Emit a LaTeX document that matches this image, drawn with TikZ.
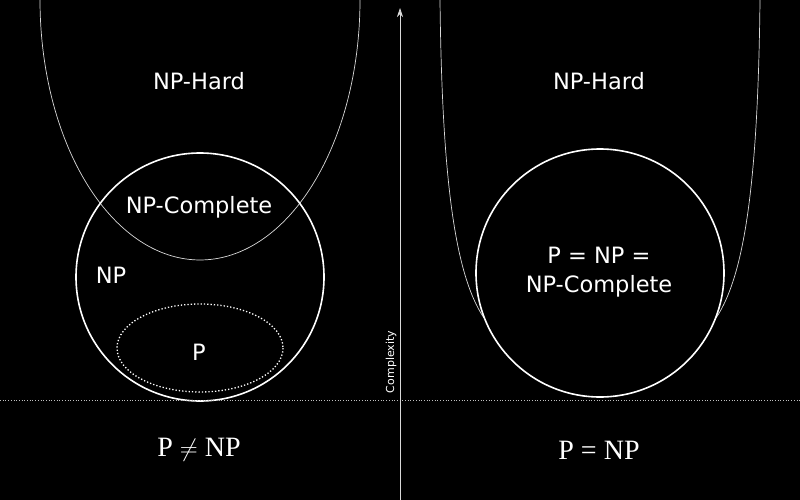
\documentclass[tikz,border=0pt]{standalone}
\usepackage{fontspec}
\setmainfont{DejaVu Sans}
\newfontfamily\serifx{Liberation Serif}
\usetikzlibrary{arrows.meta}
\begin{document}
\begin{tikzpicture}[x=1pt,y=-1pt,
  lbl/.style={text=white,font=\fontsize{22.5}{29}\selectfont,align=center},
  bot/.style={text=white,font=\serifx\fontsize{28}{30}\selectfont},
  big/.style={draw=white,line width=1.6pt},
  thin/.style={draw=white!85!black,line width=0.7pt}]
\fill[black] (0,0) rectangle (800,500);
\useasboundingbox (0,0) rectangle (800,500);
% left
\draw[thin] plot[domain=0:180,samples=120,smooth] ({200+160*cos(\x)},{260*sin(\x)});
\draw[big] (200,277) circle[radius=124];
\draw[draw=white,line width=1.3pt,dotted] (200,348) ellipse[x radius=83,y radius=44];
\node[lbl] (nph1) at (199,81) {NP-Hard};
\node[lbl] (npc1) at (199,207) {NP-Complete};
\node[lbl] (np) at (111,275) {NP};
\node[lbl] (p) at (199,352) {P};
% right
\draw[thin] (440,0) .. controls (442,180) and (455,275) .. (484,318);
\draw[thin] (760,0) .. controls (758,180) and (745,275) .. (716,318);
\draw[big] (600,273) circle[radius=124];
\node[lbl] (nph2) at (599,81) {NP-Hard};
\node[lbl] (pnp) at (599,272) {P = NP =\\NP-Complete};
% axes
\draw[white!75!black,dotted,line width=0.7pt] (0,400) -- (800,400);
\coordinate (a0) at (400,500);
\coordinate (a1) at (400,8);
\draw[white!85!black,line width=0.7pt,-{Stealth[length=9pt,width=6pt]}] (a0) -- (a1);
\node[text=white,font=\fontsize{11}{12}\selectfont,rotate=90] (cx) at (391,362) {Complexity};
\node[bot] (l1) at (199,450) {P $\neq$ NP};
\node[bot] (l2) at (599,450) {P = NP};
\end{tikzpicture}
\end{document}
